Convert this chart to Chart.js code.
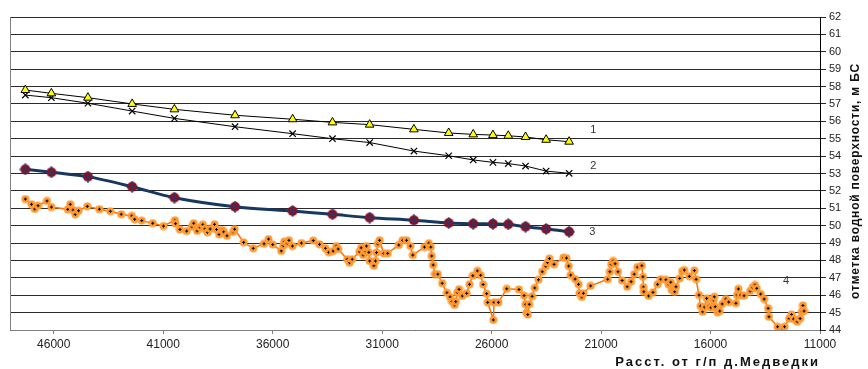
<!DOCTYPE html>
<html>
<head>
<meta charset="utf-8">
<script src="https://cdn.jsdelivr.net/npm/chart.js@4.4.0/dist/chart.umd.min.js"></script>
<style>
html, body { margin: 0; padding: 0; background: #fff; }
</style>
</head>
<body>
<canvas id="profileChart" width="868" height="369"></canvas>
<script>
// Расстояния для линий 1-3 (м)
var distMain = [47300, 46110, 44440, 42420, 40490, 37720, 35090, 33270, 31570, 29550, 27960, 26840, 25940, 25240, 24450, 23510, 22460];
var level1 = [57.80, 57.61, 57.36, 57.00, 56.69, 56.35, 56.12, 55.94, 55.81, 55.54, 55.33, 55.25, 55.21, 55.17, 55.10, 54.94, 54.83];
var level2 = [57.51, 57.36, 57.04, 56.59, 56.17, 55.69, 55.29, 55.00, 54.78, 54.29, 54.02, 53.78, 53.64, 53.57, 53.43, 53.14, 53.01];
var level3 = [53.24, 53.07, 52.82, 52.24, 51.61, 51.09, 50.84, 50.65, 50.46, 50.31, 50.15, 50.11, 50.10, 50.08, 49.94, 49.81, 49.65];

// Линия 4 - подробный профиль
var dist4 = [47300, 47020, 46870, 46720, 46310, 46110, 45360, 45250, 45120, 45020, 44870, 44470, 43920, 43420, 42920, 42440, 42310, 41980, 41480, 40990,
  40470, 40440, 40240, 39930, 39690, 39610, 39450, 39320, 39190, 39100, 38980, 38860, 38660, 38570, 38450, 38310, 38240, 38090, 37810, 37740,
  37330, 36890, 36400, 36190, 36000, 35610, 35520, 35470, 35340, 35260, 35100, 34690, 34150, 33860, 33590, 33440, 33240, 33100, 33010, 32600,
  32490, 32370, 32040, 31960, 31870, 31760, 31720, 31610, 31570, 31380, 31310, 31260, 31200, 31120, 30930, 30750, 30240, 30070, 29890, 29710,
  29600, 29070, 28870, 28780, 28740, 28670, 28590, 28460, 28260, 28040, 27900, 27810, 27690, 27640, 27570, 27490, 27340, 27140, 27010, 26860,
  26650, 26500, 26390, 26230, 26180, 25920, 25890, 25690, 25310, 24750, 24520, 24450, 24410, 24350, 24280, 24150, 24030, 23860, 23690, 23530,
  23450, 23360, 23150, 22720, 22580, 22480, 22390, 22190, 22030, 21990, 21880, 21810, 21480, 20700, 20600, 20540, 20450, 20360, 20230, 20040,
  19810, 19630, 19490, 19340, 19140, 19090, 19070, 19050, 18830, 18630, 18420, 18270, 18040, 17920, 17820, 17770, 17700, 17640, 17580, 17410,
  17300, 17200, 16970, 16740, 16660, 16530, 16460, 16360, 16280, 16180, 16080, 15980, 15870, 15830, 15790, 15680, 15580, 15470, 15300, 15170,
  14840, 14790, 14730, 14630, 14470, 14190, 14080, 13970, 13890, 13710, 13550, 13370, 13330, 12940, 12710, 12620, 12410, 12300, 12210, 12040,
  11910, 11830, 11780, 11730];
var level4 = [51.53, 51.23, 50.96, 51.15, 51.42, 51.07, 50.94, 51.23, 50.90, 50.65, 50.86, 51.11, 50.95, 50.83, 50.66, 50.56, 50.37, 50.29, 50.14, 49.98,
  50.31, 50.12, 49.78, 49.69, 49.94, 50.14, 49.70, 49.91, 50.06, 49.81, 49.62, 49.81, 50.08, 49.78, 49.50, 49.75, 49.64, 49.42, 49.64, 49.80,
  49.04, 48.70, 48.96, 49.23, 48.91, 48.55, 48.85, 49.08, 48.99, 49.16, 48.83, 49.00, 49.14, 48.93, 48.70, 48.47, 48.54, 48.83, 48.66, 48.07,
  47.87, 48.07, 48.50, 48.73, 48.31, 48.50, 48.83, 48.47, 47.97, 47.70, 47.97, 48.45, 48.95, 49.16, 48.41, 48.41, 48.89, 49.16, 49.16, 48.83,
  48.31, 48.77, 48.99, 48.77, 48.26, 47.74, 47.22, 47.21, 46.69, 46.14, 45.90, 45.64, 45.44, 45.63, 46.16, 46.34, 45.96, 46.11, 46.63, 47.12,
  47.40, 47.15, 46.62, 46.09, 45.59, 44.58, 45.59, 45.59, 46.37, 46.33, 45.98, 45.48, 44.99, 44.89, 45.48, 45.94, 46.42, 46.89, 47.35, 47.67,
  47.88, 48.11, 47.78, 48.16, 48.14, 47.68, 47.16, 46.93, 46.63, 46.11, 45.90, 46.11, 46.54, 46.92, 47.35, 47.78, 47.97, 47.81, 47.35, 46.85,
  46.49, 46.78, 47.21, 47.62, 47.70, 47.06, 46.47, 46.20, 45.96, 46.17, 46.63, 46.92, 46.89, 46.62, 46.75, 46.30, 46.30, 46.20, 46.49, 46.97,
  47.38, 47.45, 47.09, 47.42, 46.92, 46.01, 45.38, 45.05, 45.32, 45.82, 45.38, 45.28, 45.73, 45.91, 45.34, 45.02, 45.09, 45.50, 45.78, 45.61,
  45.54, 46.01, 46.36, 46.01, 45.97, 46.24, 46.44, 46.59, 46.40, 46.07, 45.78, 45.25, 44.76, 44.19, 44.01, 44.19, 44.66, 44.89, 44.63, 44.48,
  44.66, 45.06, 45.41, 45.09];

// Подписи линий и осей
var lineNames = ['1', '2', '3', '4'];
var lineNameX = [21350, 21350, 21400, 12550];
var lineNameY = [55.5, 53.43, 49.64, 46.82];
var xTicks = [46000, 41000, 36000, 31000, 26000, 21000, 16000, 11000];
var xTitle = 'Расст. от г/п д.Медведки';
var yTitle = 'отметка водной поверхности, м БС';

function toPoints(xs, ys) {
    return xs.map(function (v, i) { return { x: v, y: ys[i] }; });
}

// Маркеры
function markerOrange() {
    var c = document.createElement('canvas');
    c.width = 9; c.height = 9;
    var g = c.getContext('2d');
    g.fillStyle = '#ff9a33';
    g.beginPath(); g.arc(4.5, 4.5, 4, 0, Math.PI * 2); g.fill();
    g.fillStyle = '#000';
    g.fillRect(4, 3, 1, 3);
    g.fillRect(3, 4, 3, 1);
    return c;
}
function markerRed() {
    var c = document.createElement('canvas');
    c.width = 12; c.height = 12;
    var g = c.getContext('2d');
    g.fillStyle = '#8a0f22';
    g.beginPath(); g.arc(6, 6, 5, 0, Math.PI * 2); g.fill();
    g.strokeStyle = '#1c3f78';
    g.lineWidth = 1.2;
    g.beginPath(); g.moveTo(6, 0); g.lineTo(6, 12); g.moveTo(0, 6); g.lineTo(12, 6); g.stroke();
    return c;
}

var font = 'Liberation Sans, Arial, sans-serif';

var extraText = {
    id: 'extraText',
    afterDraw: function (chart) {
        var ctx = chart.ctx, area = chart.chartArea;
        var x = chart.scales.x, y = chart.scales.y;
        ctx.save();
        // левая граница области построения
        ctx.strokeStyle = '#808080';
        ctx.lineWidth = 1;
        ctx.beginPath();
        ctx.moveTo(area.left + 0.5, area.top);
        ctx.lineTo(area.left + 0.5, area.bottom);
        ctx.stroke();
        // номера линий
        ctx.fillStyle = '#333';
        ctx.font = '11px ' + font;
        ctx.textAlign = 'center';
        ctx.textBaseline = 'middle';
        for (var i = 0; i < lineNames.length; i++) {
            ctx.fillText(lineNames[i], x.getPixelForValue(lineNameX[i]), y.getPixelForValue(lineNameY[i]));
        }
        // подпись оси X
        ctx.fillStyle = '#111';
        ctx.font = 'bold 13px ' + font;
        ctx.letterSpacing = '2px';
        ctx.textAlign = 'right';
        ctx.fillText(xTitle, area.right, 362);
        // подпись оси Y
        ctx.letterSpacing = '0.8px';
        ctx.font = 'bold 12px ' + font;
        ctx.translate(856, 181);
        ctx.rotate(-Math.PI / 2);
        ctx.textAlign = 'center';
        ctx.fillText(yTitle, 0, 0);
        ctx.restore();
    }
};

var ctx = document.getElementById('profileChart');
var myChart = new Chart(ctx, {
    type: 'scatter',
    data: {
        datasets: [{
            label: '1',
            data: toPoints(distMain, level1),
            showLine: true,
            borderColor: '#000',
            borderWidth: 1,
            pointStyle: 'triangle',
            pointRadius: 5,
            pointBackgroundColor: '#ffff00',
            pointBorderColor: '#000',
            pointBorderWidth: 1
        }, {
            label: '2',
            data: toPoints(distMain, level2),
            showLine: true,
            borderColor: '#000',
            borderWidth: 1,
            pointStyle: 'crossRot',
            pointRadius: 4.5,
            pointBorderColor: '#000',
            pointBorderWidth: 1.2
        }, {
            label: '3',
            data: toPoints(distMain, level3),
            showLine: true,
            borderColor: '#17375e',
            borderWidth: 3,
            tension: 0.3,
            pointStyle: markerRed(),
            pointRadius: 6
        }, {
            label: '4',
            data: toPoints(dist4, level4),
            showLine: true,
            borderColor: '#ff7000',
            borderWidth: 1.5,
            pointStyle: markerOrange(),
            pointRadius: 4
        }]
    },
    options: {
        responsive: false,
        animation: false,
        layout: { padding: { left: 10, top: 17, right: 0, bottom: 0 } },
        scales: {
            x: {
                type: 'linear',
                reverse: true,
                min: 11000,
                max: 48000,
                afterBuildTicks: function (scale) {
                    scale.ticks = xTicks.map(function (v) { return { value: v }; });
                },
                afterFit: function (scale) { scale.height = 39; },
                grid: {
                    drawOnChartArea: false,
                    color: '#808080',
                    tickLength: 4
                },
                border: { color: '#808080' },
                ticks: {
                    autoSkip: false,
                    color: '#222',
                    padding: 3,
                    maxRotation: 0,
                    font: { family: font, size: 12 },
                    callback: function (value) { return String(value); }
                }
            },
            y: {
                position: 'right',
                min: 44,
                max: 62,
                afterFit: function (scale) { scale.width = 48; },
                grid: {
                    color: '#2a2a2a',
                    tickLength: 6
                },
                border: { color: '#000' },
                ticks: {
                    autoSkip: false,
                    stepSize: 1,
                    color: '#222',
                    padding: 3,
                    font: { family: font, size: 11 }
                }
            }
        },
        plugins: {
            legend: { display: false },
            tooltip: { enabled: false }
        }
    },
    plugins: [extraText]
});
</script>
</body>
</html>
